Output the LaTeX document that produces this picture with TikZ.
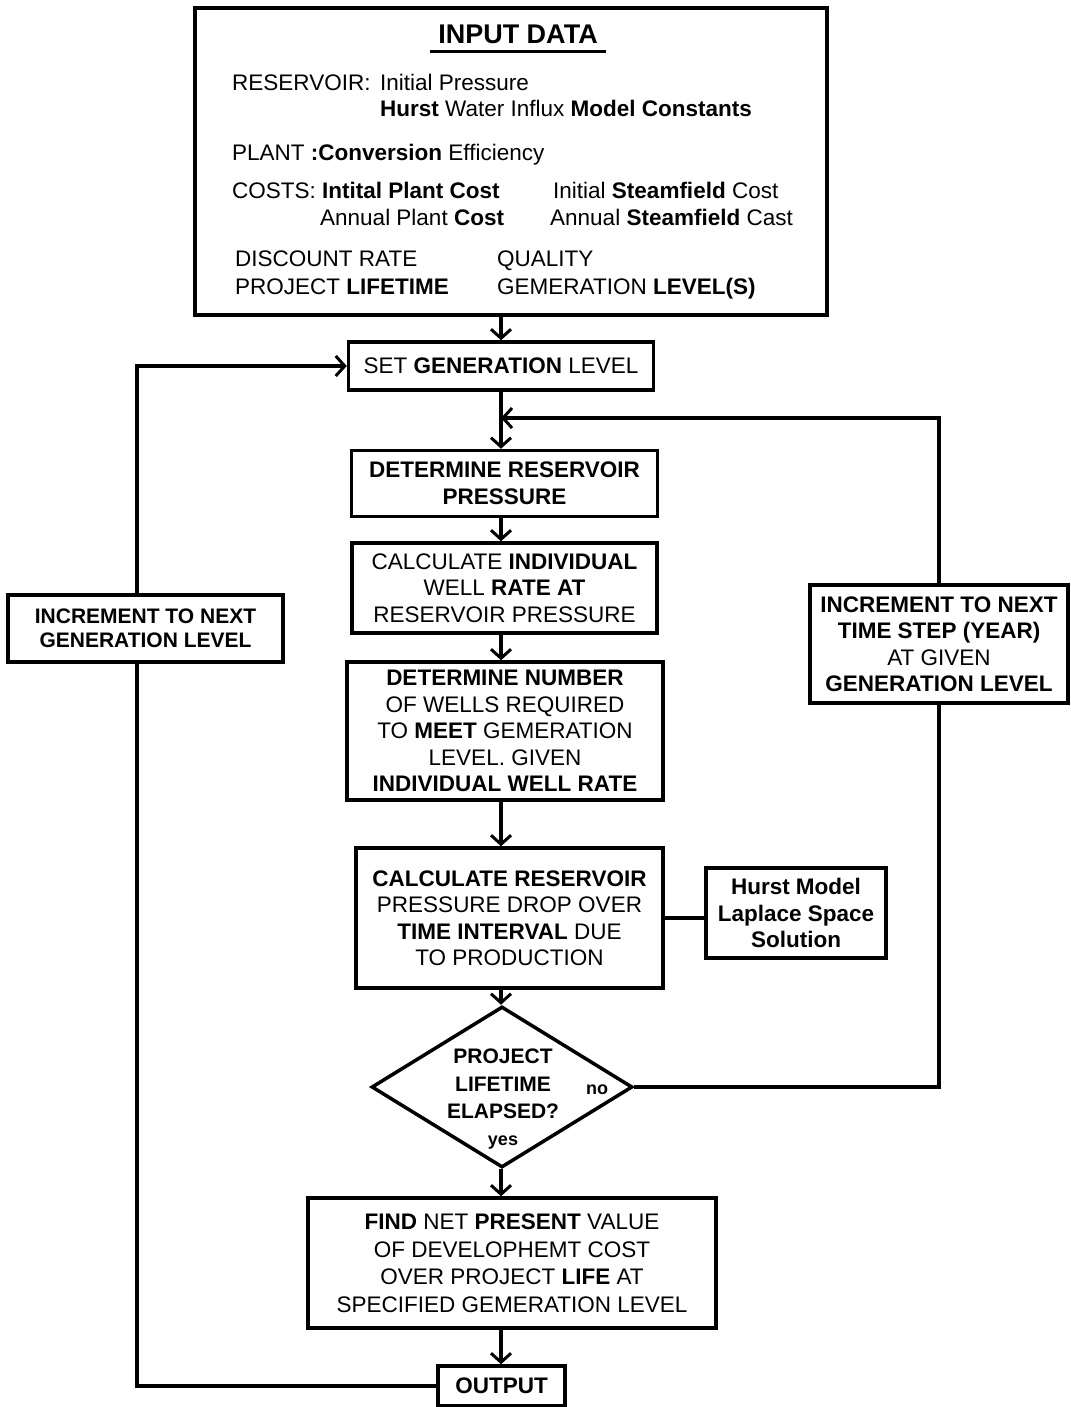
\documentclass[tikz,border=0pt]{standalone}
\usepackage{fontspec}
\setmainfont{Liberation Sans}
\newfontfamily\heavyfam{Liberation Sans}
\usetikzlibrary{arrows.meta,shapes.geometric}
\newcommand\B[1]{{\heavyfam\bfseries #1}}
\tikzset{
  box/.style={draw, line width=3.5pt, rectangle, inner sep=0pt, align=center},
  txt/.style={anchor=base west, inner sep=0pt},
  conn/.style={line width=3.5pt},
  arr/.style={line width=3.5pt, -{Straight Barb[length=9pt,width=20pt,line width=3pt]}},
}
\begin{document}
\begin{tikzpicture}[x=1pt,y=-1pt,font=\fontsize{22.5}{26.5}\selectfont]
\useasboundingbox (0,0) rectangle (1070,1407);

% input data box
\node[box, minimum width=632pt, minimum height=307pt] (input) at (511,161.5) {};
\node[anchor=base, inner sep=0pt, font=\fontsize{27}{30}\selectfont] (title) at (518,44) {\B{INPUT DATA}};
\draw[line width=3pt] ([xshift=-8pt,yshift=-8pt]title.base west) -- ([xshift=8pt,yshift=-8pt]title.base east);
\node[txt] (r1) at (232,91) {RESERVOIR:};
\node[txt] (r1b) at (380,91) {Initial Pressure};
\node[txt] (r2) at (380,117) {\B{Hurst} Water Influx \B{Model Constants}};
\node[txt] (p1) at (232,161) {PLANT \B{:Conversion} Efficiency};
\node[txt] (c1) at (232,199) {COSTS: \B{Intital Plant Cost}};
\node[txt] (c2) at (553,199) {Initial \B{Steamfield} Cost};
\node[txt] (c3) at (320,225) {Annual Plant \B{Cost}};
\node[txt] (c4) at (550,225) {Annual \B{Steamfield} Cast};
\node[txt] (d1) at (235,266) {DISCOUNT RATE};
\node[txt] (d2) at (497,266) {QUALITY};
\node[txt] (d3) at (235,294) {PROJECT \B{LIFETIME}};
\node[txt] (d4) at (497,294) {GEMERATION \B{LEVEL(S)}};

% main column
\node[box, minimum width=305pt, minimum height=48pt] (set) at (501,366) {SET \B{GENERATION} LEVEL};
\node[box, minimum width=306pt, minimum height=66pt] (det) at (504.5,483.5) {\B{DETERMINE RESERVOIR}\\\B{PRESSURE}};
\node[box, minimum width=305pt, minimum height=90pt] (calc) at (504.5,588) {CALCULATE \B{INDIVIDUAL}\\WELL \B{RATE AT}\\RESERVOIR PRESSURE};
\node[box, minimum width=316pt, minimum height=138pt] (num) at (505,731) {\B{DETERMINE NUMBER}\\OF WELLS REQUIRED\\TO \B{MEET} GEMERATION\\LEVEL. GIVEN\\\B{INDIVIDUAL WELL RATE}};
\node[box, minimum width=307pt, minimum height=140pt] (calcres) at (509.5,918) {\B{CALCULATE RESERVOIR}\\PRESSURE DROP OVER\\\B{TIME INTERVAL} DUE\\TO PRODUCTION};
\node[box, minimum width=180pt, minimum height=90pt] (hurst) at (796,913) {\B{Hurst Model}\\\B{Laplace Space}\\\B{Solution}};
\node[draw, diamond, line width=3.5pt, minimum width=261pt, minimum height=161pt, inner sep=0pt] (dia) at (502,1087) {};
\node[align=center, inner sep=0pt, font=\heavyfam\bfseries\fontsize{21}{27.5}\selectfont] (dtext) at (503,1084) {PROJECT\\LIFETIME\\ELAPSED?};
\node[inner sep=0pt, font=\heavyfam\bfseries\fontsize{18}{20}\selectfont] (no) at (597,1090) {no};
\node[inner sep=0pt, font=\heavyfam\bfseries\fontsize{18}{20}\selectfont] (yes) at (503,1143) {yes};
\node[box, minimum width=408pt, minimum height=130pt, font=\fontsize{22.5}{27.5}\selectfont] (npv) at (512,1263) {\B{FIND} NET \B{PRESENT} VALUE\\OF DEVELOPHEMT COST\\OVER PROJECT \B{LIFE} AT\\SPECIFIED GEMERATION LEVEL};
\node[box, minimum width=127pt, minimum height=40pt] (out) at (501.5,1386) {\B{OUTPUT}};

% side boxes
\node[box, minimum width=258pt, minimum height=118pt] (right) at (939,644) {\B{INCREMENT TO NEXT}\\\B{TIME STEP (YEAR)}\\AT GIVEN\\\B{GENERATION LEVEL}};
\node[box, minimum width=275pt, minimum height=67pt, font=\heavyfam\bfseries\fontsize{21}{24}\selectfont] (left) at (145.5,628.5) {INCREMENT TO NEXT\\GENERATION LEVEL};

\coordinate (col) at (501,0);
\coordinate (jn) at (501,418);
\coordinate (lx) at (137,0);

% connectors
\draw[arr] (input.south -| col) -- (set.north -| col);
\draw[arr] (set.south -| col) -- (det.north -| col);
\draw[arr] (det.south -| col) -- (calc.north -| col);
\draw[arr] (calc.south -| col) -- (num.north -| col);
\draw[arr] (num.south -| col) -- (calcres.north -| col);
\draw[arr] (calcres.south -| col) -- (dia.north -| col);
\draw[arr] (dia.south -| col) -- (npv.north -| col);
\draw[arr] (npv.south -| col) -- (out.north -| col);
\draw[conn] (calcres.east) -- (calcres.east -| hurst.west);
\draw[conn] (dia.east) -| (right.south);
\draw[arr] (right.north) |- (jn);
\draw[conn] (out.west) -| (left.south -| lx);
\draw[arr] (left.north -| lx) |- (set.west);
\end{tikzpicture}
\end{document}
